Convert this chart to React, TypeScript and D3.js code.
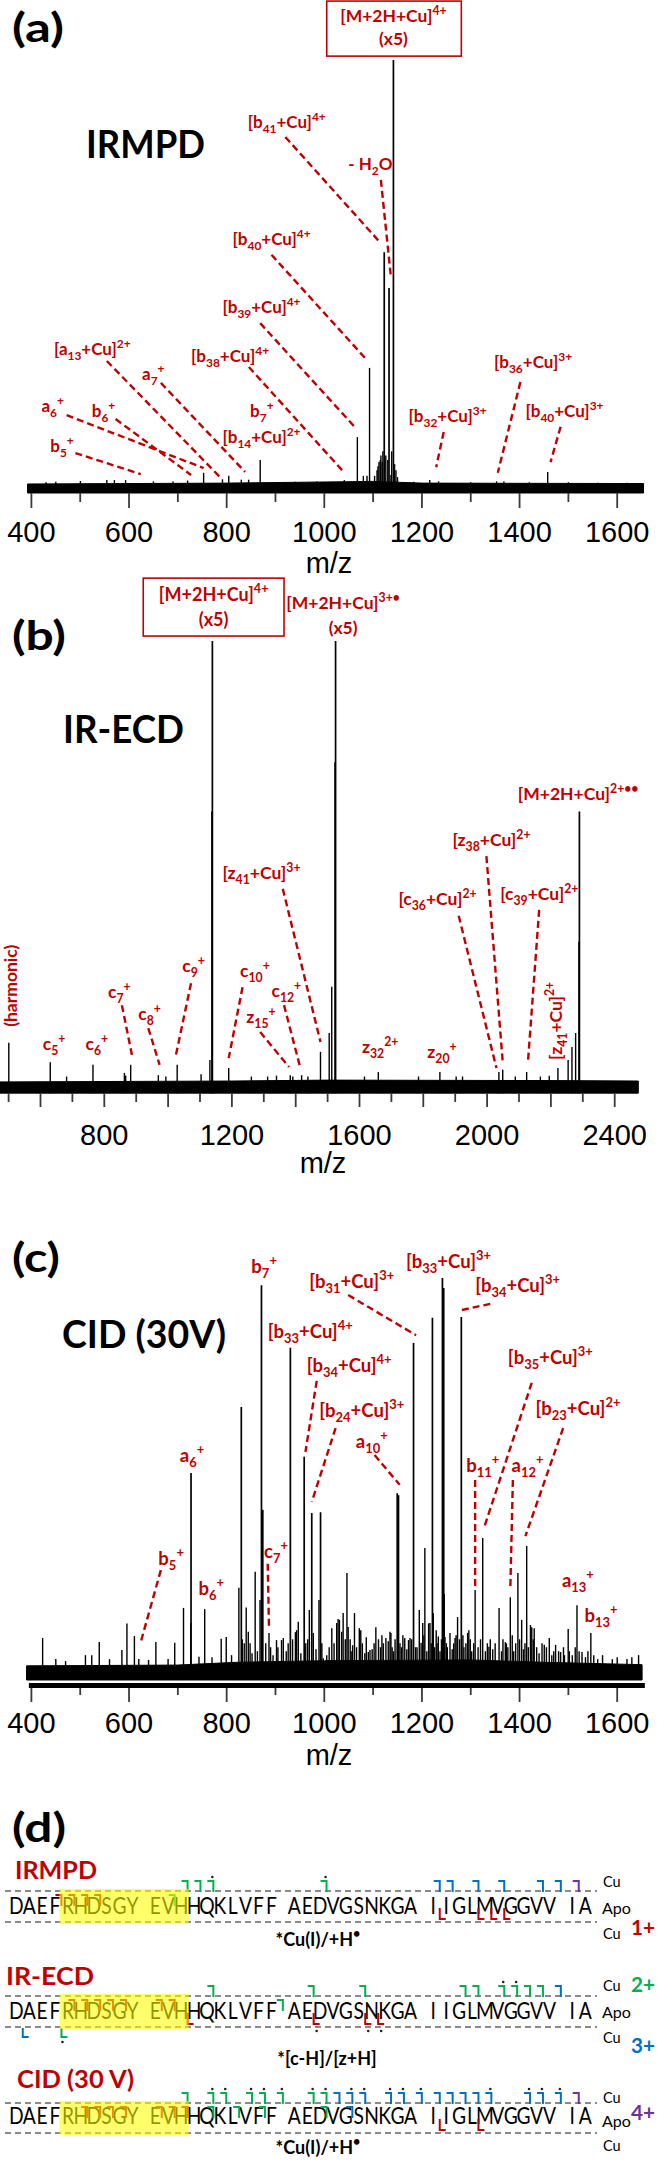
import React from 'react';
import * as d3 from 'd3';

const W = 657, H = 2163;
const RED = '#c00000', GREEN = '#00b050', BLUE = '#0070c0', PURPLE = '#7030a0';
const LATO = "Lato, 'Open Sans', sans-serif";
const ARIAL = "'Liberation Sans', Arial, sans-serif";

// ---------------- Panel (a) IRMPD ----------------
const peaksA: [number, number][] = [
  [1141.6, 100], [1122.8, 55.3], [1132.6, 47], [1092.7, 28.4], [1067.7, 12.3], [868.7, 7], [1457.6, 4.2],
  [1114.6, 7], [1118.5, 6.5], [1108, 4.6], [1103, 3.3], [1136.5, 3.5], [1146.8, 4.6], [1110, 5.5], [1112, 6.5],
  [1116, 8], [1120, 9], [1126, 8], [1130, 7], [1138, 9], [1144, 6], [1150, 3],
  [752.8, 4], [804.3, 3.3], [791.4, 2.5], [500.4, 2.1], [554.5, 2.3], [570, 2.3], [593, 2.3], [1216, 2.3],
  [1234, 2], [1353, 2], [1368, 2], [1183, 1.9], [1278, 1.6], [1080, 3.3], [1087.5, 3.3], [1041, 2.3],
  [650, 2], [690, 2], [720, 2.2], [830, 2.4], [845, 2.4], [940, 1.9], [985, 2], [1300, 1.8], [1420, 1.8],
  [1500, 1.8], [1560, 1.7], [1620, 1.7], [450, 1.9], [430, 1.8],
];
const noiseA: [number, number][] = [[392, 1.4], [800, 1.6], [1100, 2], [1200, 1.6], [1654, 1.5]];
const ticksA = [400, 500, 600, 700, 800, 900, 1000, 1100, 1200, 1300, 1400, 1500, 1600];
const tickLabelsA = [400, 600, 800, 1000, 1200, 1400, 1600];
const annA = [
  { t: '[b_{41}+Cu]^{4+}', lx: 843, ly: 84.2, line: [920.2, 82.1, 1113.3, 57.7] },
  { t: '- H_{2}O', lx: 1049, ly: 74.4, line: [1115.9, 72.1, 1136.5, 49.5] },
  { t: '[b_{40}+Cu]^{4+}', lx: 812, ly: 57, line: [891.8, 54.7, 1087.5, 30.2] },
  { t: '[b_{39}+Cu]^{4+}', lx: 791.4, ly: 41.2, line: [868.7, 38.8, 1064.4, 14.4] },
  { t: '[a_{13}+Cu]^{2+}', lx: 446.4, ly: 31.4, line: [554.5, 30, 786.3, 3] },
  { t: 'a_{7}^{+}', lx: 626.6, ly: 25.6, line: [665.2, 24.9, 837.8, 4.2] },
  { t: '[b_{38}+Cu]^{4+}', lx: 727, ly: 29.8, line: [845.5, 28.6, 1041.2, 4] },
  { t: 'a_{6}^{+}', lx: 420.6, ly: 18.1, line: [472.1, 17.4, 752.8, 5.1] },
  { t: 'b_{6}^{+}', lx: 523.6, ly: 17, line: [572.5, 16.5, 727, 3.5] },
  { t: 'b_{7}^{+}', lx: 848, ly: 17 },
  { t: '[b_{14}+Cu]^{2+}', lx: 791.4, ly: 10.9 },
  { t: 'b_{5}^{+}', lx: 438.6, ly: 8.8, line: [490.1, 8.6, 624, 3.7] },
  { t: '[b_{32}+Cu]^{3+}', lx: 1172.5, ly: 15.8, line: [1244.6, 13.5, 1229.2, 5.3] },
  { t: '[b_{36}+Cu]^{3+}', lx: 1347.6, ly: 28.4, line: [1401.7, 25.1, 1355.4, 4] },
  { t: '[b_{40}+Cu]^{3+}', lx: 1412, ly: 17, line: [1484.1, 14.7, 1463.5, 6.5] },
];
const boxA = { lines: ['[M+2H+Cu]^{4+}', '(x5)'], mz: 1141.6, ly: [108.8, 103.5], rect: [1005, 1280.7, 100.9, 113.7] };

// ---------------- Panel (b) IR-ECD ----------------
const peaksB: [number, number][] = [
  [500.6, 10.5], [630.6, 6.2], [764.5, 5.6], [882.7, 5.6], [863, 3.8], [969.4, 3.3], [1028.5, 5.6], [1131, 6.7],
  [1138.8, 100], [1137.5, 62], [1190, 4.9], [1383, 3.3], [1418.6, 3.3], [1477.7, 8.5], [1505, 12.7], [1513, 23],
  [1525, 100], [1523.5, 73], [1659, 4], [1852, 4], [2037, 4], [2049, 4.5], [2124, 4], [2222, 4.9], [2254, 6.7],
  [2266, 9.6], [2277.5, 12.7], [2289.4, 62], [2287.8, 33],
  [681.8, 3], [867, 3.2], [993, 3], [1103.4, 3.5], [1261, 3], [1312, 3], [1339.8, 3.2], [1391, 3], [1438.3, 3],
  [1615.6, 3], [1785, 3], [1903, 3], [1923, 3], [2088.4, 3], [2167, 3], [2194.8, 3.2],
];
const noiseB: [number, number][] = [[473, 1.8], [1200, 2.0], [1500, 2.2], [2200, 2.1], [2474, 2.0]];
const ticksB = [500, 600, 700, 800, 900, 1000, 1100, 1200, 1300, 1400, 1500, 1600, 1700, 1800, 1900, 2000, 2100, 2200, 2300, 2400];
const tickLabelsB = [800, 1200, 1600, 2000, 2400];
const annB = [
  { t: '[M+2H+Cu]^{3+•}', lx: 1548.6, ly: 107.1, anchor: 'middle' },
  { t: '(x5)', lx: 1548.6, ly: 101.6, anchor: 'middle' },
  { t: '[M+2H+Cu]^{2+••}', lx: 2096, ly: 64.6 },
  { t: '[z_{38}+Cu]^{2+}', lx: 1891.4, ly: 54.3, line: [1997.8, 52.1, 2049, 6.2] },
  { t: '[z_{41}+Cu]^{3+}', lx: 1170.4, ly: 47, line: [1359.5, 44.8, 1477.7, 10.7] },
  { t: '[c_{36}+Cu]^{2+}', lx: 1722, ly: 41.2, line: [1911, 38.8, 2029.3, 4.9] },
  { t: '[c_{39}+Cu]^{2+}', lx: 2041, ly: 42.3, line: [2163.2, 40.1, 2127.8, 6] },
  { t: 'c_{9}^{+}', lx: 1044.3, ly: 26.3, line: [1071.9, 23.8, 1024.6, 7.8] },
  { t: 'c_{10}^{+}', lx: 1225.5, ly: 25.2, line: [1233.4, 22.9, 1190, 7.1] },
  { t: 'c_{7}^{+}', lx: 811.8, ly: 20.5, line: [855.2, 18.9, 886.7, 7.8] },
  { t: 'c_{12}^{+}', lx: 1324, ly: 20.7, line: [1363.4, 18.9, 1414.6, 4.9] },
  { t: 'c_{8}^{+}', lx: 906.4, ly: 15.6, line: [937.9, 13.8, 973.4, 5.6] },
  { t: 'z_{15}^{+}', lx: 1245.2, ly: 14.9, line: [1288.6, 12.9, 1379.2, 5.1] },
  { t: 'c_{5}^{+}', lx: 607, ly: 8.9 },
  { t: 'c_{6}^{+}', lx: 741, ly: 8.9 },
  { t: 'z_{32}^{2+}', lx: 1607.7, ly: 8.2 },
  { t: 'z_{20}^{+}', lx: 1812.6, ly: 7.1 },
  { t: '(harmonic)', lx: 525, ly: 23.2, anchor: 'middle', rotate: true },
  { t: '[z_{41}+Cu]^{2+}', lx: 2234, ly: 15.4, anchor: 'middle', rotate: true },
];
const boxB = { lines: ['[M+2H+Cu]^{4+}', '(x5)'], mz: 1142.8, ly: [108.9, 103.3], rect: [922.1, 1363.4, 101.1, 114] };

// ---------------- Panel (c) CID ----------------
const peaksC: [number, number][] = [
  [871.3, 98.2], [874, 41.6], [930.5, 82.4], [830, 67.5], [825, 22], [958.8, 55], [1182.8, 83.6], [1221.5, 90],
  [1242, 100], [1244.6, 97.5], [1280.7, 90.2], [727, 50.9], [840, 17], [858.4, 26], [886.7, 10.6], [940.8, 10.8],
  [974.3, 40.8], [992.3, 41], [1031, 13.9], [1046.4, 25.7], [1061.8, 15.6], [1105.6, 12], [1149.4, 45.8], [1152, 45.3],
  [1206, 32], [1213.7, 13], [1273, 14.6], [1309, 21.4], [1324.5, 34.5], [1358, 16.9], [1381, 19.6], [1396.6, 25.7],
  [1414.6, 32.5], [1425, 12], [1499.6, 11.6], [1517.6, 17.6], [1546, 10.6], [423, 9.3], [595.7, 13], [611, 9.8],
  [711.6, 16.9], [755, 16.6], [539, 8.3], [655, 8.3],
  [693.6, 8.1], [510.7, 5], [523.6, 5], [585.4, 6.3], [788.8, 9.1], [799.1, 9.6], [902.1, 8.8], [912.4, 8.8],
  [943.3, 11.3], [1015.4, 11.8], [1028.3, 14.1], [1038.6, 15.6], [1048.9, 12.1], [1074.7, 11.3], [1090.1, 5.8],
  [1126.2, 9.3], [1136.5, 10.6], [1164.8, 9.3], [1172.5, 8.8], [1198.3, 8.1], [1229.2, 11.3], [1247.2, 9.6],
  [1257.5, 10.6], [1267.8, 9.3], [1293.6, 10.6], [1296.1, 11.3], [1337.3, 7.1], [1370.8, 8.3], [1404.3, 13.9],
  [1422.3, 12.6], [1430, 11.8], [1450.6, 7.6], [1460.9, 9.3], [1473.8, 7.6], [1484.1, 5.8], [1527.9, 5.8], [1643.8, 5],
  [726.3, 13.1], [743.3, 4.6], [844.3, 10.9], [868.3, 18.9], [916, 9.3], [946.7, 13.4], [969.3, 16.4], [977.5, 10.6],
  [989.1, 18.9], [998, 4.2], [1025.4, 13.1], [1035.6, 10.9], [1071.7, 11.8], [1093.6, 6.3], [1134.6, 10.9],
  [1175.6, 9.3], [1194.6, 16.4], [1201.6, 13.1], [1216.5, 13.1], [1223.3, 15.6], [1233.5, 9.7], [1245.8, 20.4],
  [852, 5.5], [863, 6], [895, 5], [922, 6], [952, 5.5], [983, 6.5], [1005, 5], [1010, 7], [1055, 6], [1066, 7],
  [1083, 5.5], [1098, 6.5], [1115, 7], [1121, 8], [1142, 6], [1158, 7], [1169, 6.5], [1190, 7], [1210, 6], [1226, 7],
  [1237, 6], [1252, 7], [1262, 6.5], [1286, 7], [1302, 6], [1315, 7], [1330, 6], [1345, 6.5], [1363, 6], [1376, 7],
  [1388, 6], [1408, 6.5], [1418, 7], [1440, 5.5], [1466, 5], [1492, 5], [1508, 5], [1535, 4.5], [1560, 4], [1590, 4],
  [1620, 4], [450, 4], [470, 3.5], [560, 4], [620, 4], [640, 3.8], [680, 4], [770, 4.5], [810, 5],
  [1053, 9], [1058, 7.5], [1078, 8], [1086, 9.5], [1102, 8], [1111, 9], [1118, 10], [1131, 8.5], [1139, 7], [1145, 9],
  [1155, 8], [1161, 10], [1179, 9], [1187, 7], [1204, 10], [1219, 8], [1231, 8], [1240, 9], [1250, 8], [1265, 8],
  [1270, 10], [1277, 9], [1284, 10], [1290, 8], [1299, 9], [1306, 8], [1320, 9], [1334, 8], [1340, 9], [1350, 8],
  [1366, 9], [1373, 8], [1385, 10], [1392, 8], [1400, 9], [1411, 8], [1428, 9], [1435, 7], [1446, 8], [1455, 7],
  [1470, 6], [1480, 6], [1490, 7], [1502, 6], [1514, 7], [1522, 6], [1540, 6], [1552, 5], [1570, 5], [1600, 4.5],
  [1630, 4.5], [832, 9], [836, 8], [848, 8], [880, 8], [890, 7], [905, 7], [926, 8], [935, 9], [962, 8], [966, 9],
  [995, 8], [1020, 8], [1043, 9],
];
const noiseC: [number, number][] = [[390, 2.3], [700, 2.5], [820, 3.2], [1000, 3.6], [1300, 3.8], [1450, 3.2], [1651, 2.6]];
const ticksC = ticksA;
const tickLabelsC = tickLabelsA;
const annC = [
  { t: 'b_{7}^{+}', lx: 850.6, ly: 101.3 },
  { t: '[b_{31}+Cu]^{3+}', lx: 969.1, ly: 97.5, line: [1048.9, 95.7, 1188, 85.6] },
  { t: '[b_{33}+Cu]^{3+}', lx: 1167.4, ly: 102.5 },
  { t: '[b_{34}+Cu]^{3+}', lx: 1309, ly: 96.5, line: [1339.9, 93.5, 1280.7, 91.9] },
  { t: '[b_{33}+Cu]^{4+}', lx: 884.1, ly: 84.9 },
  { t: '[b_{34}+Cu]^{4+}', lx: 963.9, ly: 76.3, line: [984.5, 74.1, 961.4, 56.2] },
  { t: '[b_{24}+Cu]^{3+}', lx: 989.7, ly: 65, line: [1023.2, 62.2, 974.3, 43.6] },
  { t: 'a_{10}^{+}', lx: 1064.4, ly: 57.2, line: [1103, 55.4, 1154.5, 47.9] },
  { t: '[b_{35}+Cu]^{3+}', lx: 1376, ly: 78.3, line: [1424.9, 73.6, 1327, 37] },
  { t: '[b_{23}+Cu]^{2+}', lx: 1432.6, ly: 65.5, line: [1489.3, 62.2, 1412, 35] },
  { t: 'b_{11}^{+}', lx: 1291, ly: 51.1, line: [1309, 49.1, 1309, 21.4] },
  { t: 'a_{12}^{+}', lx: 1383.7, ly: 51.1, line: [1386.3, 49.1, 1381.1, 21.9] },
  { t: 'a_{6}^{+}', lx: 703.9, ly: 53.7 },
  { t: 'b_{5}^{+}', lx: 660.1, ly: 27.7, line: [665.2, 26.4, 624, 8.3] },
  { t: 'b_{6}^{+}', lx: 742.5, ly: 20.2 },
  { t: 'c_{7}^{+}', lx: 876.4, ly: 29.5, line: [884.1, 28, 886.7, 11.8] },
  { t: 'a_{13}^{+}', lx: 1486.7, ly: 22.2 },
  { t: 'b_{13}^{+}', lx: 1533, ly: 13.4 },
];

// ---------------- Panel (d) sequence coverage ----------------
const SEQ = 'DAEFRHDSGYEVHHQKLVFFAEDVGSNKGAIIGLMVGGVVIA'.split('');
type Frag = [number, number, string, boolean?];
const fragsIRMPD: Frag[] = [
  [13, 2, 'cb'], [14, 2, 'cb'], [15, 2, 'cb', true], [23, 2, 'cb', true], [31, 3, 'cb'], [32, 3, 'cb'], [34, 3, 'cb'],
  [36, 3, 'cb'], [39, 3, 'cb'], [40, 3, 'cb'], [41, 4, 'cb'],
  [4, 1, 'ab'], [5, 1, 'ab'], [6, 1, 'ab'], [7, 1, 'ab'], [12, 2, 'ab'],
  [31, 1, 'ay'], [34, 1, 'ay'], [35, 1, 'ay'], [36, 1, 'ay'],
];
const fragsECD: Frag[] = [
  [15, 2, 'cb'], [22, 2, 'cb'], [26, 2, 'cb'], [33, 2, 'cb'], [34, 2, 'cb'], [36, 2, 'cb', true], [37, 2, 'cb', true],
  [38, 2, 'cb'], [39, 2, 'cb'], [40, 3, 'cb'],
  [5, 1, 'ab'], [6, 1, 'ab'], [7, 1, 'ab'], [8, 1, 'ab'], [9, 1, 'ab'], [11, 1, 'ab'], [12, 1, 'ab'], [20, 2, 'ab'],
  [13, 1, 'ay'], [22, 1, 'ay', true], [26, 1, 'ay', true], [27, 1, 'ay', true],
  [1, 3, 'cy'], [4, 2, 'cy', true],
];
const fragsCID: Frag[] = [
  [13, 2, 'cb'], [15, 2, 'cb', true], [16, 2, 'cb', true], [18, 2, 'cb', true], [19, 2, 'cb', true], [20, 2, 'cb', true],
  [22, 2, 'cb', true], [23, 2, 'cb', true], [24, 3, 'cb'], [25, 3, 'cb', true], [26, 3, 'cb', true], [28, 3, 'cb', true],
  [29, 3, 'cb', true], [30, 3, 'cb', true], [31, 3, 'cb'], [32, 3, 'cb'], [33, 3, 'cb'], [34, 3, 'cb'], [35, 3, 'cb', true],
  [38, 3, 'cb', true], [39, 3, 'cb', true], [40, 3, 'cb', true], [41, 4, 'cb'],
  [6, 1, 'ab'], [7, 1, 'ab'], [8, 1, 'ab'], [9, 1, 'ab'], [11, 1, 'ab'], [12, 1, 'ab'], [13, 1, 'ab'],
  [15, 2, 'ab'], [17, 2, 'ab'], [19, 2, 'ab'], [23, 2, 'ab'], [25, 3, 'ab'],
  [31, 1, 'ay'], [34, 1, 'ay'],
];
const chargeColor: Record<number, string> = { 1: RED, 2: GREEN, 3: BLUE, 4: PURPLE };

// ---------------- helpers ----------------
function parseRich(s: string) {
  const out: { t: string; m: string }[] = [];
  const re = /(_\{[^}]*\}|\^\{[^}]*\})/g;
  let last = 0;
  let m: RegExpExecArray | null;
  while ((m = re.exec(s))) {
    if (m.index > last) out.push({ t: s.slice(last, m.index), m: 'n' });
    const tok = m[0];
    out.push({ t: tok.slice(2, -1), m: tok[0] === '_' ? 'sub' : 'sup' });
    last = re.lastIndex;
  }
  if (last < s.length) out.push({ t: s.slice(last), m: 'n' });
  return out;
}

function Rich({ x, y, s, fs, anchor = 'start', fill = RED, weight = 700, rotate = false, family = LATO }: any) {
  const parts = parseRich(s);
  let cur = 0;
  const kids = parts.map((p, i) => {
    const tgt = p.m === 'sub' ? fs * 0.28 : p.m === 'sup' ? -fs * 0.42 : 0;
    const dy = tgt - cur;
    cur = tgt;
    return (
      <tspan key={i} dy={dy} fontSize={p.m === 'n' ? fs : fs * 0.7}>
        {p.t}
      </tspan>
    );
  });
  const tr = rotate ? `rotate(-90 ${x} ${y})` : undefined;
  return (
    <text x={x} y={y} textAnchor={anchor} fontFamily={family} fontWeight={weight} fontSize={fs} fill={fill} transform={tr}>
      {kids}
    </text>
  );
}

function SpectrumPanel({ cfg }: any) {
  const { xs, ys, peaks, noise, floor, ann, box, ticks, tickLabels, axis, fs, letter, title } = cfg;
  const area = d3
    .area<[number, number]>()
    .x((d) => xs(d[0]))
    .y0(ys(floor))
    .y1((d) => ys(d[1]));
  return (
    <g>
      <text x={letter.x} y={letter.y} fontFamily={LATO} fontWeight={700} fontSize={41} textLength={letter.w} lengthAdjust="spacingAndGlyphs">
        {letter.t}
      </text>
      <text x={title.x} y={title.y} fontFamily={LATO} fontWeight={700} fontSize={39} textLength={title.w} lengthAdjust="spacingAndGlyphs">
        {title.t}
      </text>
      <path d={area(noise) || ''} fill="#000" stroke="#000" strokeWidth={1} />
      {peaks.map((p: [number, number], i: number) => (
        <line key={i} x1={xs(p[0])} x2={xs(p[0])} y1={ys(floor)} y2={ys(p[1])} stroke="#000" strokeWidth={p[1] > 40 ? 1.7 : 1.4} />
      ))}
      {axis.bar && (
        <line x1={xs(axis.bar[0])} x2={xs(axis.bar[1])} y1={axis.bar[2]} y2={axis.bar[2]} stroke="#000" strokeWidth={5} />
      )}
      {ticks.map((t: number) => (
        <line key={t} x1={xs(t)} x2={xs(t)} y1={axis.tickTop}
          y2={t % 200 === 0 ? axis.tickBottom : axis.tickMinor} stroke="#3a3a3a" strokeWidth={1.8} />
      ))}
      {tickLabels.map((t: number) => (
        <text key={t} x={xs(t)} y={axis.labelY} textAnchor="middle" fontFamily={ARIAL} fontSize={29}>
          {t}
        </text>
      ))}
      <text x={axis.mzX} y={axis.mzY} textAnchor="middle" fontFamily={ARIAL} fontSize={29}>
        m/z
      </text>
      {box && (
        <g>
          <rect x={xs(box.rect[0])} y={ys(box.rect[3])} width={xs(box.rect[1]) - xs(box.rect[0])}
            height={ys(box.rect[2]) - ys(box.rect[3])} fill="#fff" stroke={RED} strokeWidth={1.6} />
          {box.lines.map((l: string, i: number) => (
            <Rich key={i} x={xs(box.mz)} y={ys(box.ly[i])} s={l} fs={fs + 0.5} anchor="middle" />
          ))}
        </g>
      )}
      {ann.map((a: any, i: number) => (
        <g key={i}>
          {a.line && (
            <line x1={xs(a.line[0])} y1={ys(a.line[1])} x2={xs(a.line[2])} y2={ys(a.line[3])}
              stroke={RED} strokeWidth={2.4} strokeDasharray="7,4" />
          )}
          <Rich x={xs(a.lx)} y={ys(a.ly)} s={a.t} fs={fs} anchor={a.anchor || 'start'} rotate={a.rotate} />
        </g>
      ))}
    </g>
  );
}

const cfgA = {
  xs: d3.scaleLinear().domain([400, 1600]).range([31.4, 617.2]),
  ys: d3.scaleLinear().domain([0, 100]).range([490, 60]),
  peaks: peaksA, noise: noiseA, floor: -0.7, ann: annA, box: boxA,
  ticks: ticksA, tickLabels: tickLabelsA, fs: 17,
  axis: { tickTop: 493, tickBottom: 508, tickMinor: 502, labelY: 542, mzX: 329, mzY: 573 },
  letter: { t: '(a)', x: 12, y: 42, w: 52 }, title: { t: 'IRMPD', x: 86, y: 158, w: 119 },
};
const cfgB = {
  xs: d3.scaleLinear().domain([800, 2400]).range([104.3, 614.7]),
  ys: d3.scaleLinear().domain([0, 100]).range([1090, 641]),
  peaks: peaksB, noise: noiseB, floor: -0.7, ann: annB, box: boxB,
  ticks: ticksB, tickLabels: tickLabelsB, fs: 17.5,
  axis: { tickTop: 1093, tickBottom: 1107, tickMinor: 1102, labelY: 1145, mzX: 323, mzY: 1173 },
  letter: { t: '(b)', x: 12, y: 650, w: 54 }, title: { t: 'IR-ECD', x: 63, y: 743, w: 121 },
};
const cfgC = {
  xs: d3.scaleLinear().domain([400, 1600]).range([31.4, 617.2]),
  ys: d3.scaleLinear().domain([0, 100]).range([1675, 1278]),
  peaks: peaksC, noise: noiseC, floor: -1.26, ann: annC, box: null,
  ticks: ticksC, tickLabels: tickLabelsC, fs: 18.5,
  axis: { tickTop: 1688, tickBottom: 1702, tickMinor: 1695, labelY: 1733, mzX: 329, mzY: 1765, bar: [394.8, 1656.6, 1685.5] },
  letter: { t: '(c)', x: 12, y: 1272, w: 48 }, title: { t: 'CID (30V)', x: 62, y: 1348, w: 164 },
};

const GAP = 0.775;
const resScale = d3.scaleLinear().domain([0, 1]).range([9.85, 9.85 + 12.9]);
const resCenter = (i: number) => resScale(i + 0.5 + Math.floor(i / 10) * GAP);
const cleave = (k: number) => resScale(k + Math.floor(k / 10) * GAP - (k % 10 === 0 ? GAP / 2 : 0));

const rowsD = [
  { title: 'IRMPD', tx: 15, titleY: 1879, titleW: 82, yU: 1891, base: 1914, yL: 1922, cuTop: 1887, apoY: 1914, cuBot: 1939,
    note: '*Cu(I)/+H^{•}', noteX: 318, noteY: 1946, frags: fragsIRMPD, charges: [{ t: '1+', c: RED, y: 1935 }] },
  { title: 'IR-ECD', tx: 6, titleY: 1985, titleW: 88, yU: 1996, base: 2019, yL: 2027, cuTop: 1991, apoY: 2018, cuBot: 2043,
    note: '*[c-H]/[z+H]', noteX: 327, noteY: 2065, frags: fragsECD, charges: [{ t: '2+', c: GREEN, y: 1992 }, { t: '3+', c: BLUE, y: 2053 }] },
  { title: 'CID (30 V)', tx: 17, titleY: 2088, titleW: 117, yU: 2103, base: 2124, yL: 2133, cuTop: 2103, apoY: 2127, cuBot: 2151,
    note: '*Cu(I)/+H^{•}', noteX: 318, noteY: 2154, frags: fragsCID, charges: [{ t: '4+', c: PURPLE, y: 2120 }] },
];

function FragMark({ f, row }: any) {
  const [k, z, lvl, star] = f;
  const e = cleave(k);
  const c = chargeColor[z];
  const { yU, yL } = row;
  let d = '';
  let sx = e, sy = 0;
  if (lvl === 'cb') { d = `M${e - 6},${yU - 10}H${e}V${yU + 1}`; sx = e - 1; sy = yU - 14; }
  else if (lvl === 'ab') { d = `M${e - 6},${yU + 4}H${e}V${yU + 15}`; sy = yU - 1; }
  else if (lvl === 'ay') { d = `M${e},${yL - 14}V${yL - 3}H${e + 6}`; sx = e + 3; sy = yL + 4; }
  else { d = `M${e},${yL + 1}V${yL + 10}H${e + 6}`; sx = e + 1; sy = yL + 15; }
  return (
    <g>
      <path d={d} fill="none" stroke={c} strokeWidth={2} />
      {star && <circle cx={sx} cy={sy} r={1.3} fill="#222" />}
    </g>
  );
}

function SequencePanel() {
  return (
    <g>
      <text x={12} y={1842} fontFamily={LATO} fontWeight={700} fontSize={41} textLength={54} lengthAdjust="spacingAndGlyphs">(d)</text>
      {rowsD.map((row, ri) => (
        <g key={ri}>
          <text x={row.tx} y={row.titleY} fontFamily={LATO} fontWeight={700} fontSize={25} fill={RED}
            textLength={row.titleW} lengthAdjust="spacingAndGlyphs">{row.title}</text>
          <line x1={5} x2={597} y1={row.yU} y2={row.yU} stroke="#8a8a8a" strokeWidth={1.8} strokeDasharray="6,4" />
          <line x1={5} x2={597} y1={row.yL} y2={row.yL} stroke="#8a8a8a" strokeWidth={1.8} strokeDasharray="6,4" />
          {SEQ.map((r, i) => (
            <text key={i} transform={`translate(${resCenter(i)},${row.base}) scale(0.82,1)`} textAnchor="middle"
              fontFamily={LATO} fontSize={23.5} fill="#000">{r}</text>
          ))}
          {row.frags.map((f, i) => <FragMark key={i} f={f} row={row} />)}
          <rect x={cleave(4) - 2} y={row.yU - 2} width={cleave(13) - cleave(4) + 3} height={row.yL - row.yU + 4}
            fill="#ffff00" opacity={0.58} />
          <text x={603} y={row.cuTop} fontFamily={LATO} fontSize={14.5}>Cu</text>
          <text x={602} y={row.apoY} fontFamily={LATO} fontSize={14.5} textLength={29} lengthAdjust="spacingAndGlyphs">Apo</text>
          <text x={603} y={row.cuBot} fontFamily={LATO} fontSize={14.5}>Cu</text>
          {row.charges.map((c, i) => (
            <text key={i} x={631} y={c.y} fontFamily={LATO} fontWeight={700} fontSize={20} fill={c.c}
              textLength={24} lengthAdjust="spacingAndGlyphs">{c.t}</text>
          ))}
          <Rich x={row.noteX} y={row.noteY} s={row.note} fs={18} anchor="middle" fill="#000" />
        </g>
      ))}
    </g>
  );
}

export default function App() {
  return (
    <svg width={W} height={H} viewBox={`0 0 ${W} ${H}`} style={{ position: 'absolute', left: 0, top: 0, display: 'block' }}
      xmlns="http://www.w3.org/2000/svg">
      <rect width={W} height={H} fill="#fff" />
      <SpectrumPanel cfg={cfgA} />
      <SpectrumPanel cfg={cfgB} />
      <SpectrumPanel cfg={cfgC} />
      <SequencePanel />
    </svg>
  );
}
